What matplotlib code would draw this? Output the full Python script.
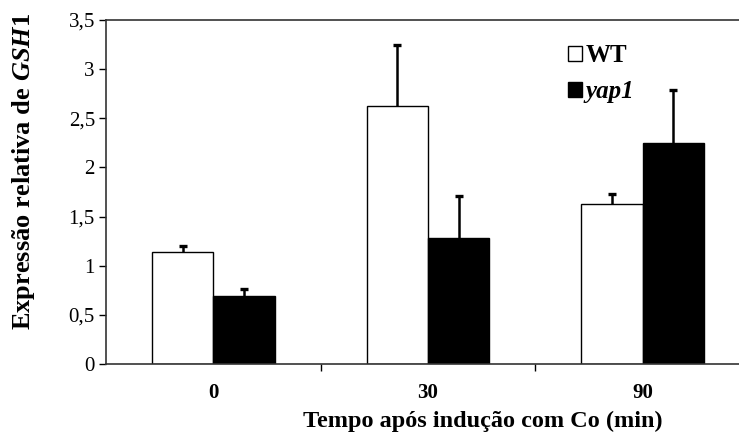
import matplotlib.pyplot as plt
from matplotlib.patches import Patch
import numpy as np

plt.rcParams['font.family'] = ['Liberation Serif', 'DejaVu Serif']
plt.rcParams['mathtext.fontset'] = 'custom'
plt.rcParams['mathtext.rm'] = 'Liberation Serif:bold'
plt.rcParams['mathtext.it'] = 'Liberation Serif:italic:bold'

categories = ['0', '30', '90']
wt = [1.14, 2.62, 1.63]
wt_err = [0.06, 0.63, 0.10]
yap1 = [0.69, 1.28, 2.25]
yap1_err = [0.07, 0.43, 0.54]
y_ticks = [0, 0.5, 1, 1.5, 2, 2.5, 3, 3.5]
y_tick_labels = ['0', '0,5', '1', '1,5', '2', '2,5', '3', '3,5']

fig = plt.figure(figsize=(7.39, 4.37), dpi=100)
ax = fig.add_axes([106 / 739, 1 - 364 / 437, 644 / 739, 344 / 437])

x = np.arange(len(categories))
w = 0.285
ax.bar(x - w / 2, wt, w, color='white', edgecolor='black', linewidth=1.0, zorder=2)
ax.bar(x + w / 2, yap1, w, color='black', edgecolor='black', linewidth=1.0, zorder=2)

# only the upper half of the error bars
for xs, vals, errs in [(x - w / 2, wt, wt_err), (x + w / 2, yap1, yap1_err)]:
    eb = ax.errorbar(xs, vals, yerr=[np.zeros(3), errs], fmt='none', ecolor='black',
                     elinewidth=1.8, capsize=2.6, capthick=2.4, zorder=1)
    eb.lines[1][0].set_visible(False)

ax.set_xlim(-0.5, 2.5)
ax.set_ylim(0, 3.5)
ax.set_yticks(y_ticks)
ax.set_yticklabels(y_tick_labels, fontsize=15)
ax.set_xticks([0.5, 1.5], minor=False)
ax.set_xticklabels([])
ax.set_xticks(x, minor=True)
ax.set_xticklabels(categories, minor=True, fontsize=15, fontweight='bold')
ax.tick_params(axis='x', which='minor', length=0, pad=14)
ax.tick_params(axis='x', which='major', length=5, width=1, direction='out')
ax.tick_params(axis='y', length=5, width=1, direction='out', pad=3)
for s in ['left', 'bottom', 'top', 'right']:
    ax.spines[s].set_linewidth(1.2)
    ax.spines[s].set_color('#333333')

handles = [Patch(facecolor='white', edgecolor='black', label='WT'),
           Patch(facecolor='black', edgecolor='black', label='yap1')]
leg = ax.legend(handles=handles, loc='upper left', bbox_to_anchor=(0.69, 0.98),
                frameon=False, handlelength=0.55, handleheight=0.55,
                handletextpad=0.15, labelspacing=0.5, borderpad=0.2,
                prop={'size': 18, 'weight': 'bold'})
leg.get_texts()[1].set_fontstyle('italic')

fig.text(483 / 739, 1 - 421 / 437, 'Tempo após indução com Co (min)',
         ha='center', va='center', fontsize=17.5, fontweight='bold')
fig.text(24 / 739, 1 - 171 / 437, r'$\mathrm{Expressão\ relativa\ de\ }\mathit{GSH1}$',
         ha='center', va='center', rotation=90, fontsize=19)

fig.savefig('out.png', dpi=100)
